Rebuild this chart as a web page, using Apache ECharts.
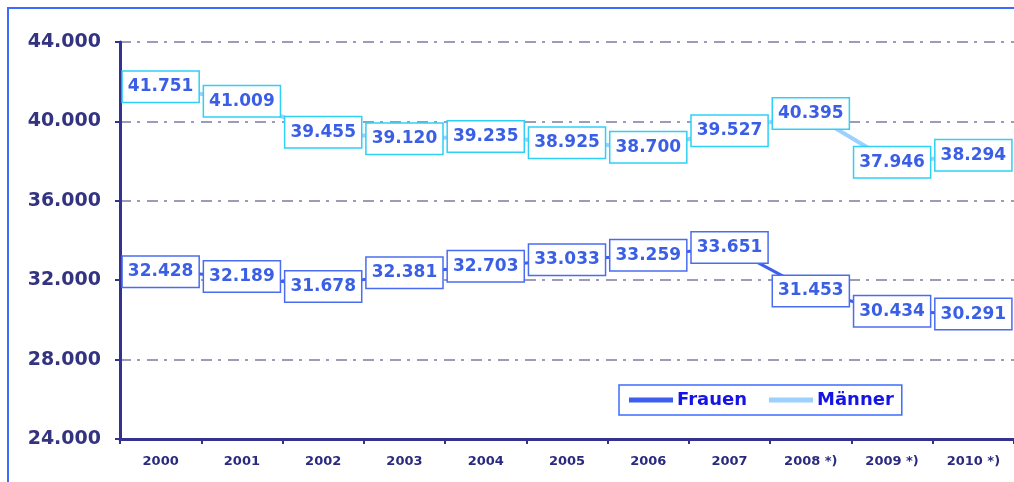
<!DOCTYPE html>
<html>
<head>
<meta charset="utf-8">
<script src="https://cdn.jsdelivr.net/npm/echarts@6/dist/echarts.min.js"></script>
<style>
html, body { margin: 0; padding: 0; background: #fff; }
#chart { width: 1014px; height: 482px; }
</style>
</head>
<body>
<div id="chart"></div>
<script>
// Jahre (x-Achse)
var jahre = ['2000', '2001', '2002', '2003', '2004', '2005', '2006', '2007', '2008 *)', '2009 *)', '2010 *)'];
// Werte
var frauen = [32428, 32189, 31678, 32381, 32703, 33033, 33259, 33651, 31453, 30434, 30291];
var maenner = [41751, 41009, 39455, 39120, 39235, 38925, 38700, 39527, 40395, 37946, 38294];

function fmt(v) {
	return (v / 1000).toFixed(3);
}

var myChart = echarts.init(document.getElementById('chart'));

function labelStyle(border) {
	return {
		show: true,
		position: 'inside',
		formatter: function (p) { return fmt(p.value); },
		color: '#3a5fe6',
		fontFamily: 'DejaVu Sans',
		fontWeight: 'bold',
		fontSize: 17,
		backgroundColor: '#fff',
		borderColor: border,
		borderWidth: 1.5,
		padding: [7, 5, 6, 5]
	};
}

var option = {
	backgroundColor: '#fff',
	animation: false,
	graphic: [{
		type: 'rect',
		shape: { x: 8, y: 8, width: 1200, height: 600 },
		style: { fill: 'none', stroke: '#3c6cff', lineWidth: 2 },
		silent: true
	}],
	grid: { left: 120, top: 42, width: 896, height: 397 },
	legend: {
		left: 619,
		top: 385,
		padding: [6, 8, 6, 10],
		borderColor: '#3c6cff',
		borderWidth: 1.5,
		itemWidth: 44,
		itemHeight: 5,
		itemGap: 22,
		icon: 'rect',
		textStyle: {
			color: '#1414e6',
			fontFamily: 'DejaVu Sans',
			fontWeight: 'bold',
			fontSize: 18,
			padding: [0, 0, 0, -1]
		},
		data: ['Frauen', 'Männer']
	},
	xAxis: {
		type: 'category',
		data: jahre,
		boundaryGap: true,
		axisLine: { lineStyle: { color: '#33338f', width: 3 } },
		axisTick: { show: true, length: 5, lineStyle: { color: '#33338f', width: 2 } },
		axisLabel: {
			color: '#2a2a80',
			fontFamily: 'DejaVu Sans',
			fontWeight: 'bold',
			fontSize: 13,
			margin: 16
		},
		splitLine: { show: false }
	},
	yAxis: {
		type: 'value',
		min: 24000,
		max: 44000,
		interval: 4000,
		axisLine: { show: true, lineStyle: { color: '#33338f', width: 3 } },
		axisTick: { show: true, length: 5, lineStyle: { color: '#33338f', width: 2 } },
		axisLabel: {
			color: '#33337f',
			fontFamily: 'DejaVu Sans',
			fontWeight: 'bold',
			fontSize: 19,
			margin: 19,
			formatter: function (v) { return fmt(v); }
		},
		splitLine: {
			show: true,
			lineStyle: { color: '#7c7ca4', width: 1.5, type: [11, 6, 3, 7] }
		}
	},
	series: [{
		name: 'Frauen',
		type: 'line',
		data: frauen,
		symbol: 'circle',
		symbolSize: 1,
		showSymbol: true,
		itemStyle: { color: '#3c5ff0' },
		lineStyle: { color: '#3c5ff0', width: 3 },
		label: labelStyle('#4a6cf0')
	}, {
		name: 'Männer',
		type: 'line',
		data: maenner,
		symbol: 'circle',
		symbolSize: 1,
		showSymbol: true,
		itemStyle: { color: '#9cd0ff' },
		lineStyle: { color: '#9cd0ff', width: 4 },
		label: labelStyle('#2ed0f5')
	}]
};

myChart.setOption(option);
</script>
</body>
</html>
